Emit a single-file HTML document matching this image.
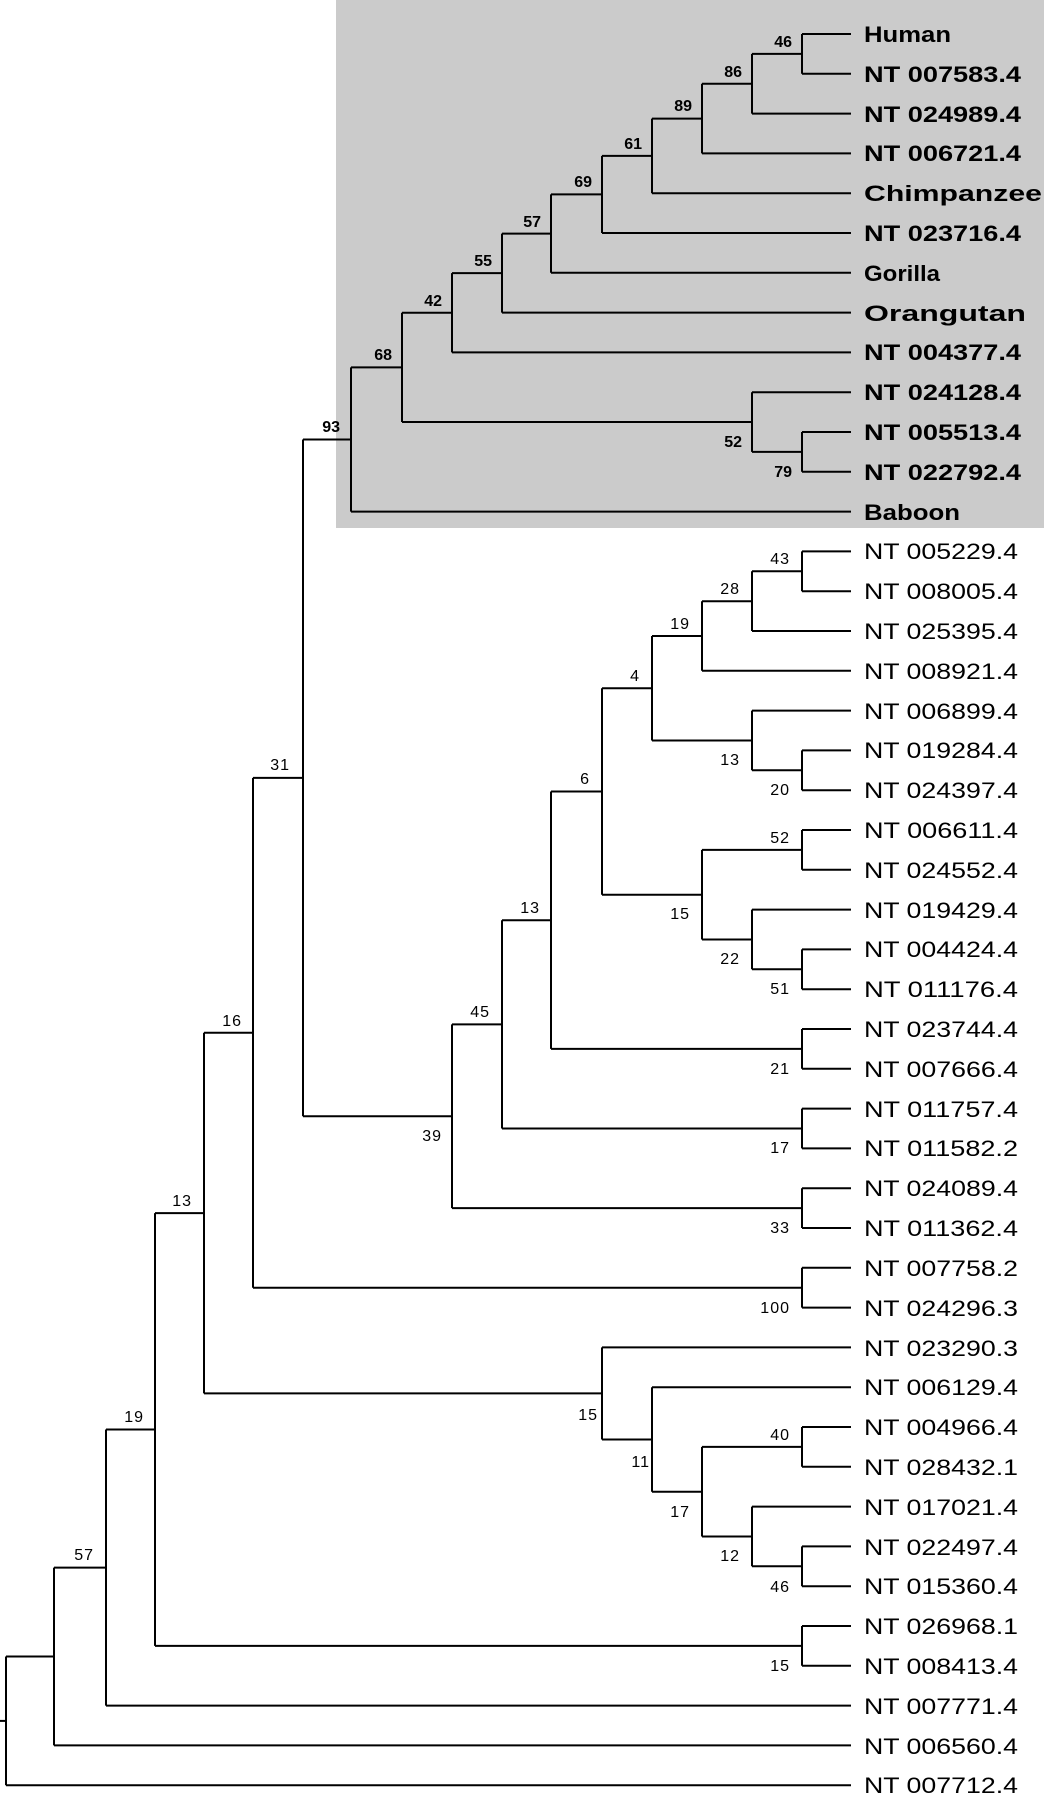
<!DOCTYPE html>
<html><head><meta charset="utf-8"><style>
html,body{margin:0;padding:0;background:#fff;}
svg{display:block;}
text{font-family:"Liberation Sans",sans-serif;fill:#000;}
.lf{font-size:22px;}
.sh{font-size:22px;font-weight:bold;}
.n{font-size:16px;text-anchor:end;letter-spacing:1px;}
.nb{font-size:16px;text-anchor:end;font-weight:bold;}
</style></head><body>
<svg width="1044" height="1800" viewBox="0 0 1044 1800" xmlns="http://www.w3.org/2000/svg">
<rect x="336" y="0" width="708" height="528" fill="#cbcbcb"/>
<g stroke="#000" stroke-width="2" fill="none">
<path d="M802 34V73.8M802 34H851M802 73.8H851"/>
<path d="M752 53.9V113.6M752 53.9H802M752 113.6H851"/>
<path d="M702 83.75V153.4M702 83.75H752M702 153.4H851"/>
<path d="M652 118.6V193.2M652 118.6H702M652 193.2H851"/>
<path d="M602 155.9V233M602 155.9H652M602 233H851"/>
<path d="M551 194.4V272.8M551 194.4H602M551 272.8H851"/>
<path d="M502 233.6V312.6M502 233.6H551M502 312.6H851"/>
<path d="M452 273.1V352.4M452 273.1H502M452 352.4H851"/>
<path d="M802 432V471.8M802 432H851M802 471.8H851"/>
<path d="M752 392.2V451.9M752 392.2H851M752 451.9H802"/>
<path d="M402 312.8V422M402 312.8H452M402 422H752"/>
<path d="M351 367.4V511.6M351 367.4H402M351 511.6H851"/>
<path d="M802 551.4V591.2M802 551.4H851M802 591.2H851"/>
<path d="M752 571.3V631M752 571.3H802M752 631H851"/>
<path d="M702 601.2V670.8M702 601.2H752M702 670.8H851"/>
<path d="M802 750.4V790.2M802 750.4H851M802 790.2H851"/>
<path d="M752 710.6V770.3M752 710.6H851M752 770.3H802"/>
<path d="M652 636V740.5M652 636H702M652 740.5H752"/>
<path d="M802 830V869.8M802 830H851M802 869.8H851"/>
<path d="M802 949.4V989.2M802 949.4H851M802 989.2H851"/>
<path d="M752 909.6V969.3M752 909.6H851M752 969.3H802"/>
<path d="M702 849.9V939.5M702 849.9H802M702 939.5H752"/>
<path d="M602 688.2V894.7M602 688.2H652M602 894.7H702"/>
<path d="M802 1029V1068.8M802 1029H851M802 1068.8H851"/>
<path d="M551 791.5V1048.9M551 791.5H602M551 1048.9H802"/>
<path d="M802 1108.6V1148.4M802 1108.6H851M802 1148.4H851"/>
<path d="M502 920.2V1128.5M502 920.2H551M502 1128.5H802"/>
<path d="M802 1188.2V1228M802 1188.2H851M802 1228H851"/>
<path d="M452 1024.4V1208.1M452 1024.4H502M452 1208.1H802"/>
<path d="M303 439.5V1116.2M303 439.5H351M303 1116.2H452"/>
<path d="M802 1267.8V1307.6M802 1267.8H851M802 1307.6H851"/>
<path d="M253 777.9V1287.7M253 777.9H303M253 1287.7H802"/>
<path d="M802 1427V1466.8M802 1427H851M802 1466.8H851"/>
<path d="M802 1546.4V1586.2M802 1546.4H851M802 1586.2H851"/>
<path d="M752 1506.6V1566.3M752 1506.6H851M752 1566.3H802"/>
<path d="M702 1446.9V1536.5M702 1446.9H802M702 1536.5H752"/>
<path d="M652 1387.2V1491.7M652 1387.2H851M652 1491.7H702"/>
<path d="M602 1347.4V1439.5M602 1347.4H851M602 1439.5H652"/>
<path d="M204 1032.8V1393.4M204 1032.8H253M204 1393.4H602"/>
<path d="M802 1626V1665.8M802 1626H851M802 1665.8H851"/>
<path d="M155 1213.1V1645.9M155 1213.1H204M155 1645.9H802"/>
<path d="M106 1429.5V1705.6M106 1429.5H155M106 1705.6H851"/>
<path d="M54 1567.6V1745.4M54 1567.6H106M54 1745.4H851"/>
<path d="M6 1656.5V1785.2M6 1656.5H54M6 1785.2H851"/>
<path d="M0 1720.9H6"/>
</g>
<g class="sh">
<text x="864" y="42" textLength="87" lengthAdjust="spacingAndGlyphs">Human</text>
<text x="864" y="82" textLength="157" lengthAdjust="spacingAndGlyphs">NT 007583.4</text>
<text x="864" y="122" textLength="157" lengthAdjust="spacingAndGlyphs">NT 024989.4</text>
<text x="864" y="161" textLength="157" lengthAdjust="spacingAndGlyphs">NT 006721.4</text>
<text x="864" y="201" textLength="178" lengthAdjust="spacingAndGlyphs">Chimpanzee</text>
<text x="864" y="241" textLength="157" lengthAdjust="spacingAndGlyphs">NT 023716.4</text>
<text x="864" y="281" textLength="76" lengthAdjust="spacingAndGlyphs">Gorilla</text>
<text x="864" y="321" textLength="162" lengthAdjust="spacingAndGlyphs">Orangutan</text>
<text x="864" y="360" textLength="157" lengthAdjust="spacingAndGlyphs">NT 004377.4</text>
<text x="864" y="400" textLength="157" lengthAdjust="spacingAndGlyphs">NT 024128.4</text>
<text x="864" y="440" textLength="157" lengthAdjust="spacingAndGlyphs">NT 005513.4</text>
<text x="864" y="480" textLength="157" lengthAdjust="spacingAndGlyphs">NT 022792.4</text>
<text x="864" y="520" textLength="96" lengthAdjust="spacingAndGlyphs">Baboon</text>
</g>
<g class="lf">
<text x="864" y="559" textLength="154" lengthAdjust="spacingAndGlyphs">NT 005229.4</text>
<text x="864" y="599" textLength="154" lengthAdjust="spacingAndGlyphs">NT 008005.4</text>
<text x="864" y="639" textLength="154" lengthAdjust="spacingAndGlyphs">NT 025395.4</text>
<text x="864" y="679" textLength="154" lengthAdjust="spacingAndGlyphs">NT 008921.4</text>
<text x="864" y="719" textLength="154" lengthAdjust="spacingAndGlyphs">NT 006899.4</text>
<text x="864" y="758" textLength="154" lengthAdjust="spacingAndGlyphs">NT 019284.4</text>
<text x="864" y="798" textLength="154" lengthAdjust="spacingAndGlyphs">NT 024397.4</text>
<text x="864" y="838" textLength="154" lengthAdjust="spacingAndGlyphs">NT 006611.4</text>
<text x="864" y="878" textLength="154" lengthAdjust="spacingAndGlyphs">NT 024552.4</text>
<text x="864" y="918" textLength="154" lengthAdjust="spacingAndGlyphs">NT 019429.4</text>
<text x="864" y="957" textLength="154" lengthAdjust="spacingAndGlyphs">NT 004424.4</text>
<text x="864" y="997" textLength="154" lengthAdjust="spacingAndGlyphs">NT 011176.4</text>
<text x="864" y="1037" textLength="154" lengthAdjust="spacingAndGlyphs">NT 023744.4</text>
<text x="864" y="1077" textLength="154" lengthAdjust="spacingAndGlyphs">NT 007666.4</text>
<text x="864" y="1117" textLength="154" lengthAdjust="spacingAndGlyphs">NT 011757.4</text>
<text x="864" y="1156" textLength="154" lengthAdjust="spacingAndGlyphs">NT 011582.2</text>
<text x="864" y="1196" textLength="154" lengthAdjust="spacingAndGlyphs">NT 024089.4</text>
<text x="864" y="1236" textLength="154" lengthAdjust="spacingAndGlyphs">NT 011362.4</text>
<text x="864" y="1276" textLength="154" lengthAdjust="spacingAndGlyphs">NT 007758.2</text>
<text x="864" y="1316" textLength="154" lengthAdjust="spacingAndGlyphs">NT 024296.3</text>
<text x="864" y="1356" textLength="154" lengthAdjust="spacingAndGlyphs">NT 023290.3</text>
<text x="864" y="1395" textLength="154" lengthAdjust="spacingAndGlyphs">NT 006129.4</text>
<text x="864" y="1435" textLength="154" lengthAdjust="spacingAndGlyphs">NT 004966.4</text>
<text x="864" y="1475" textLength="154" lengthAdjust="spacingAndGlyphs">NT 028432.1</text>
<text x="864" y="1515" textLength="154" lengthAdjust="spacingAndGlyphs">NT 017021.4</text>
<text x="864" y="1555" textLength="154" lengthAdjust="spacingAndGlyphs">NT 022497.4</text>
<text x="864" y="1594" textLength="154" lengthAdjust="spacingAndGlyphs">NT 015360.4</text>
<text x="864" y="1634" textLength="154" lengthAdjust="spacingAndGlyphs">NT 026968.1</text>
<text x="864" y="1674" textLength="154" lengthAdjust="spacingAndGlyphs">NT 008413.4</text>
<text x="864" y="1714" textLength="154" lengthAdjust="spacingAndGlyphs">NT 007771.4</text>
<text x="864" y="1754" textLength="154" lengthAdjust="spacingAndGlyphs">NT 006560.4</text>
<text x="864" y="1793" textLength="154" lengthAdjust="spacingAndGlyphs">NT 007712.4</text>
</g>
<g class="nb">
<text x="792" y="47">46</text>
<text x="742" y="77">86</text>
<text x="692" y="111">89</text>
<text x="642" y="149">61</text>
<text x="592" y="187">69</text>
<text x="541" y="227">57</text>
<text x="492" y="266">55</text>
<text x="442" y="306">42</text>
<text x="392" y="360">68</text>
<text x="742" y="447">52</text>
<text x="792" y="477">79</text>
<text x="340" y="432">93</text>
</g>
<g class="n">
<text x="790" y="564">43</text>
<text x="740" y="594">28</text>
<text x="690" y="629">19</text>
<text x="640" y="681">4</text>
<text x="740" y="765">13</text>
<text x="790" y="795">20</text>
<text x="790" y="843">52</text>
<text x="740" y="964">22</text>
<text x="790" y="994">51</text>
<text x="690" y="919">15</text>
<text x="590" y="784">6</text>
<text x="790" y="1074">21</text>
<text x="540" y="913">13</text>
<text x="790" y="1153">17</text>
<text x="490" y="1017">45</text>
<text x="790" y="1233">33</text>
<text x="442" y="1141">39</text>
<text x="290" y="770">31</text>
<text x="790" y="1313">100</text>
<text x="242" y="1026">16</text>
<text x="790" y="1440">40</text>
<text x="790" y="1592">46</text>
<text x="740" y="1561">12</text>
<text x="690" y="1517">17</text>
<text x="650" y="1467">11</text>
<text x="598" y="1420">15</text>
<text x="192" y="1206">13</text>
<text x="790" y="1671">15</text>
<text x="144" y="1422">19</text>
<text x="94" y="1560">57</text>
</g>
</svg>
</body></html>
